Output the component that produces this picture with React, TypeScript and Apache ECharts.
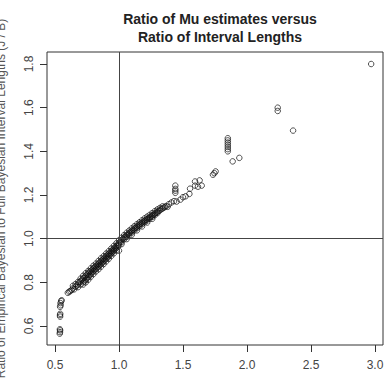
import React, { useEffect, useRef } from "react";
import * as echarts from "echarts";

const xTicks = [0.5, 1.0, 1.5, 2.0, 2.5, 3.0];
const yTicks = [0.6, 0.8, 1.0, 1.2, 1.4, 1.6, 1.8];

const lowTail: number[][] = [
  [0.537, 0.565], [0.539, 0.572], [0.54, 0.58], [0.538, 0.585], [0.54, 0.643],
  [0.539, 0.65], [0.541, 0.656], [0.54, 0.688], [0.544, 0.695], [0.543, 0.705],
  [0.548, 0.714], [0.552, 0.718],
];

const mainCurve: number[][] = [
  [0.6, 0.752], [0.61, 0.757], [0.62, 0.76], [0.63, 0.765], [0.64, 0.772], [0.65, 0.768],
  [0.66, 0.78], [0.67, 0.785], [0.68, 0.79], [0.69, 0.8], [0.7, 0.805], [0.71, 0.812],
  [0.72, 0.8], [0.72, 0.818], [0.73, 0.822], [0.73, 0.805], [0.74, 0.83], [0.74, 0.812],
  [0.75, 0.835], [0.75, 0.818], [0.76, 0.84], [0.76, 0.825], [0.77, 0.848], [0.77, 0.832],
  [0.78, 0.852], [0.78, 0.838], [0.79, 0.858], [0.79, 0.845], [0.8, 0.864], [0.8, 0.85],
  [0.81, 0.87], [0.81, 0.857], [0.82, 0.874], [0.82, 0.862], [0.83, 0.88], [0.83, 0.868],
  [0.84, 0.886], [0.84, 0.872], [0.85, 0.892], [0.85, 0.879], [0.86, 0.898], [0.86, 0.884],
  [0.87, 0.903], [0.87, 0.89], [0.88, 0.908], [0.88, 0.896], [0.89, 0.914], [0.89, 0.902],
  [0.9, 0.92], [0.9, 0.908], [0.91, 0.926], [0.91, 0.914], [0.92, 0.931], [0.92, 0.92],
  [0.93, 0.937], [0.93, 0.926], [0.94, 0.943], [0.94, 0.933], [0.95, 0.949], [0.95, 0.939],
  [0.96, 0.955], [0.96, 0.945], [0.97, 0.961], [0.97, 0.951], [0.98, 0.967], [0.98, 0.958],
  [0.99, 0.973], [0.99, 0.964], [1.0, 0.98], [1.0, 0.97], [1.0, 0.945], [1.01, 0.987],
  [1.02, 0.993], [1.02, 0.984], [1.03, 0.999], [1.04, 1.005], [1.04, 0.997], [1.05, 1.01],
  [1.06, 1.016], [1.06, 1.008], [1.07, 1.02], [1.08, 1.026], [1.08, 1.018], [1.09, 1.031],
  [1.1, 1.036], [1.1, 1.028], [1.11, 1.04], [1.12, 1.046], [1.12, 1.038], [1.13, 1.05],
  [1.14, 1.055], [1.14, 1.048], [1.15, 1.06], [1.16, 1.064], [1.16, 1.057], [1.17, 1.069],
  [1.18, 1.073], [1.18, 1.066], [1.19, 1.078], [1.2, 1.082], [1.2, 1.075], [1.21, 1.086],
  [1.22, 1.09], [1.22, 1.083], [1.23, 1.094], [1.24, 1.098], [1.24, 1.091], [1.25, 1.102],
  [1.26, 1.106], [1.26, 1.1], [1.27, 1.11], [1.28, 1.115], [1.28, 1.108], [1.29, 1.119],
  [1.3, 1.123], [1.3, 1.117], [1.31, 1.127], [1.32, 1.13], [1.33, 1.135], [1.34, 1.138],
  [1.35, 1.142], [1.36, 1.146], [1.37, 1.15], [1.38, 1.146], [1.39, 1.158], [1.41, 1.166],
  [1.43, 1.172], [1.45, 1.17], [1.48, 1.179], [1.5, 1.19], [1.52, 1.194], [1.55, 1.205],
];

const bandUpper: number[][] = [
  [0.64, 0.784], [0.66, 0.792], [0.68, 0.802], [0.7, 0.817], [0.72, 0.83], [0.74, 0.842],
  [0.76, 0.852], [0.78, 0.864], [0.8, 0.876], [0.82, 0.886], [0.84, 0.898], [0.86, 0.91],
  [0.88, 0.92], [0.9, 0.932], [0.92, 0.943], [0.94, 0.955], [0.96, 0.967], [0.98, 0.979],
  [1.0, 0.992], [1.02, 1.004], [1.04, 1.016], [1.06, 1.027], [1.08, 1.037], [1.1, 1.047],
  [1.12, 1.057], [1.14, 1.066], [1.16, 1.075], [1.18, 1.084], [1.2, 1.093], [1.22, 1.101],
  [1.24, 1.109], [1.26, 1.117], [1.28, 1.126], [1.3, 1.134], [1.32, 1.141], [1.34, 1.148],
];

const bandLower: number[][] = [
  [0.68, 0.778], [0.7, 0.79], [0.72, 0.79], [0.74, 0.8], [0.76, 0.812], [0.78, 0.826],
  [0.8, 0.838], [0.82, 0.85], [0.84, 0.86], [0.86, 0.872], [0.88, 0.884], [0.9, 0.896],
  [0.92, 0.908], [0.94, 0.921], [0.96, 0.933], [0.98, 0.946], [1.02, 0.975], [1.06, 0.998],
  [1.1, 1.018], [1.14, 1.038], [1.18, 1.056], [1.22, 1.074], [1.26, 1.091],
];

const upperPoints: number[][] = [
  [1.44, 1.21], [1.44, 1.22], [1.44, 1.228], [1.44, 1.243], [1.555, 1.229], [1.594, 1.243],
  [1.617, 1.238], [1.646, 1.243], [1.594, 1.262], [1.63, 1.267], [1.734, 1.293],
  [1.745, 1.3], [1.755, 1.308], [1.85, 1.46], [1.85, 1.45], [1.85, 1.44], [1.85, 1.43],
  [1.85, 1.42], [1.85, 1.41], [1.85, 1.4], [1.888, 1.354], [1.94, 1.37], [2.24, 1.6],
  [2.24, 1.585], [2.36, 1.495], [2.97, 1.8],
];

const titleText = "Ratio of Mu estimates versus\nRatio of Interval Lengths";
const yTitle = "Ratio of Empirical Bayesian to Full Bayesian Interval Lengths (J / B)";

const FONT = "'Liberation Sans', Arial, sans-serif";

export default function App() {
  const ref = useRef<HTMLDivElement>(null);
  useEffect(() => {
    if (!ref.current) return;
    const chart = echarts.init(ref.current, undefined, { renderer: "svg" });
    const markerStyle = {
      color: "rgba(0,0,0,0)",
      borderColor: "#111",
      borderWidth: 0.9,
    };
    const scatter = (data: number[][], extra: object = {}) => ({
      type: "scatter",
      data,
      symbol: "circle",
      symbolSize: 5.5,
      itemStyle: markerStyle,
      ...extra,
    });
    chart.setOption({
      animation: false,
      backgroundColor: "#fff",
      title: {
        text: titleText,
        left: 215,
        top: 5,
        textAlign: "center",
        textStyle: {
          fontFamily: FONT,
          fontSize: 14,
          fontWeight: "bold",
          lineHeight: 18,
          color: "#222",
        },
      },
      grid: {
        left: 47,
        right: 4,
        top: 52,
        bottom: 33,
        outerBoundsMode: "none",
        containLabel: false,
        show: true,
        borderColor: "#333",
        borderWidth: 1,
      },
      xAxis: {
        type: "value",
        min: 0.4375,
        max: 3.0625,
        splitLine: { show: false },
        axisLine: { show: false },
        axisTick: {
          show: true,
          length: 7,
          customValues: xTicks,
          lineStyle: { color: "#333" },
        },
        axisLabel: {
          customValues: xTicks,
          formatter: (v: number) => v.toFixed(1),
          margin: 14,
          fontSize: 12,
          color: "#444",
          fontFamily: FONT,
        },
      },
      yAxis: {
        type: "value",
        min: 0.513,
        max: 1.855,
        name: yTitle,
        nameLocation: "middle",
        nameGap: 40,
        nameTextStyle: { fontFamily: FONT, fontSize: 12, color: "#555" },
        splitLine: { show: false },
        axisLine: { show: false },
        axisTick: {
          show: true,
          length: 7,
          customValues: yTicks,
          lineStyle: { color: "#333" },
        },
        axisLabel: {
          customValues: yTicks,
          rotate: 90,
          formatter: (v: number) => v.toFixed(1),
          margin: 12,
          fontSize: 12,
          color: "#444",
          fontFamily: FONT,
        },
      },
      series: [
        scatter(lowTail, {
          markLine: {
            silent: true,
            symbol: ["none", "none"],
            label: { show: false },
            lineStyle: { color: "#444", type: "solid", width: 1 },
            data: [{ xAxis: 1 }, { yAxis: 1 }],
          },
        }),
        scatter(mainCurve),
        scatter(bandUpper),
        scatter(bandLower),
        scatter(upperPoints),
      ],
    });
    return () => chart.dispose();
  }, []);
  return (
    <div
      ref={ref}
      style={{ position: "fixed", left: 0, top: 0, width: 387, height: 378 }}
    />
  );
}
